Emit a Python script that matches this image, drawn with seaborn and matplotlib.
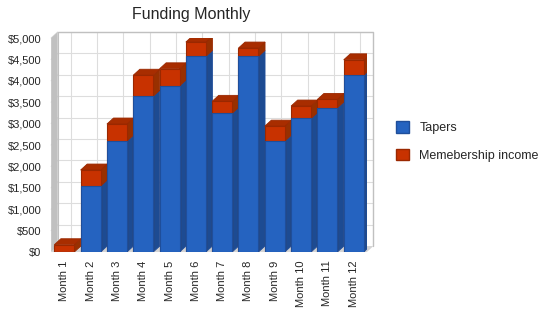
import numpy as np
import pandas as pd
import matplotlib
matplotlib.use("Agg")
import matplotlib.pyplot as plt
from matplotlib.patches import Polygon, Patch
import seaborn as sns

# === Data ===
months = ["Month 1", "Month 2", "Month 3", "Month 4", "Month 5", "Month 6",
          "Month 7", "Month 8", "Month 9", "Month 10", "Month 11", "Month 12"]
tapers = [0, 1540, 2590, 3640, 3880, 4570, 3240, 4570, 2590, 3120, 3370, 4130]
membership = [170, 375, 400, 490, 400, 335, 280, 195, 350, 290, 195, 360]
yticks = [0, 500, 1000, 1500, 2000, 2500, 3000, 3500, 4000, 4500, 5000]

df = pd.DataFrame({"month": months, "Tapers": tapers, "Memebership income": membership})
df["total"] = df["Tapers"] + df["Memebership income"]

blue, blue_side, blue_edge = "#2563C0", "#1D4B92", "#1F4E9A"
red, red_top, red_side, red_edge = "#C83200", "#A82D00", "#983000", "#9A2800"

sns.set_style("white")
plt.rcParams["font.family"] = ["Liberation Sans", "DejaVu Sans"]

fig = plt.figure(figsize=(5.5, 3.18), dpi=100)
ax = fig.add_axes([0.093, 0.2075, 0.574, 0.673])

# 3D depth in data units (about 6.5 px right, 6 px up)
dx, dy = 0.25, 140
x0, x1 = -0.5, 11.5
ymax = 5000

# === Bars (stacked) ===
sns.barplot(data=df, x="month", y="total", color=red, width=0.76, ax=ax,
            saturation=1, edgecolor=red_edge, linewidth=0.8)
sns.barplot(data=df, x="month", y="Tapers", color=blue, width=0.76, ax=ax,
            saturation=1, edgecolor=blue_edge, linewidth=0.8)

n = len(months)
red_patches = ax.patches[:n]
blue_patches = ax.patches[n:]
for i in range(n):
    rp, bp = red_patches[i], blue_patches[i]
    z = 3 + i * 0.1
    xl = bp.get_x()
    xr = xl + bp.get_width()
    t = tapers[i]
    tot = t + membership[i]
    bp.set_zorder(z)
    rp.set_zorder(z - 0.01)
    # blue side
    if t > 0:
        ax.add_patch(Polygon([(xr, 0), (xr + dx, dy), (xr + dx, t + dy), (xr, t)],
                             closed=True, facecolor=blue_side, edgecolor=blue_edge,
                             linewidth=0.6, zorder=z - 0.02))
    # red side + top
    ax.add_patch(Polygon([(xr, t), (xr + dx, t + dy), (xr + dx, tot + dy), (xr, tot)],
                         closed=True, facecolor=red_side, edgecolor=red_edge,
                         linewidth=0.6, zorder=z - 0.02))
    ax.add_patch(Polygon([(xl, tot), (xr, tot), (xr + dx, tot + dy), (xl + dx, tot + dy)],
                         closed=True, facecolor=red_top, edgecolor=red_edge,
                         linewidth=0.6, zorder=z - 0.02))

# === Walls / grid ===
for yv in yticks[1:]:
    ax.plot([x0, x0 + dx], [yv, yv + dy], color="#DDDDDD", lw=0.8, zorder=1, clip_on=False)
    ax.plot([x0 + dx, x1 + dx], [yv + dy, yv + dy], color="#DDDDDD", lw=0.8, zorder=1, clip_on=False)
for k in range(n):
    ax.plot([k + dx, k + dx], [dy, ymax + dy], color="#DDDDDD", lw=0.8, zorder=1, clip_on=False)
ax.add_patch(Polygon([(x0, 0), (x0, ymax), (x0 + dx, ymax + dy), (x0 + dx, dy)],
                     closed=True, facecolor="#C0C0C0", edgecolor="none", zorder=1.5, clip_on=False))
ax.add_patch(Polygon([(x0, 0), (x1, 0), (x1 + dx, dy), (x0 + dx, dy)],
                     closed=True, facecolor="#D4D4D4", edgecolor="none", zorder=1.5, clip_on=False))
ax.plot([x0 + dx, x1 + dx, x1 + dx], [ymax + dy, ymax + dy, dy], color="#C0C0C0",
        lw=1, zorder=1.2, clip_on=False)
ax.plot([x0 + dx, x0 + dx], [dy, ymax + dy], color="#C0C0C0", lw=0.8, zorder=1.2, clip_on=False)

ax.set_xlim(x0, x1)
ax.set_ylim(0, ymax)
for s in ax.spines.values():
    s.set_visible(False)
ax.set_xlabel("")
ax.set_ylabel("")
ax.set_yticks(yticks)
ax.set_yticklabels([f"${v:,}" for v in yticks], fontsize=8)
ax.tick_params(axis="y", length=0, pad=7)
ax.tick_params(axis="x", length=4, width=0.8, color="#C0C0C0", pad=2, labelsize=8)
plt.setp(ax.get_xticklabels(), rotation=90)

fig.text(0.347, 0.955, "Funding Monthly", ha="center", va="center", fontsize=11.5)

handles = [Patch(facecolor=blue, edgecolor=blue_edge, label="Tapers"),
           Patch(facecolor=red, edgecolor=red_edge, label="Memebership income")]
fig.legend(handles=handles, loc="center left", bbox_to_anchor=(0.7, 0.555),
           frameon=False, fontsize=9, handlelength=1.05, handleheight=1.05,
           handletextpad=0.8, labelspacing=1.15)

plt.savefig("out.png", dpi=100)
